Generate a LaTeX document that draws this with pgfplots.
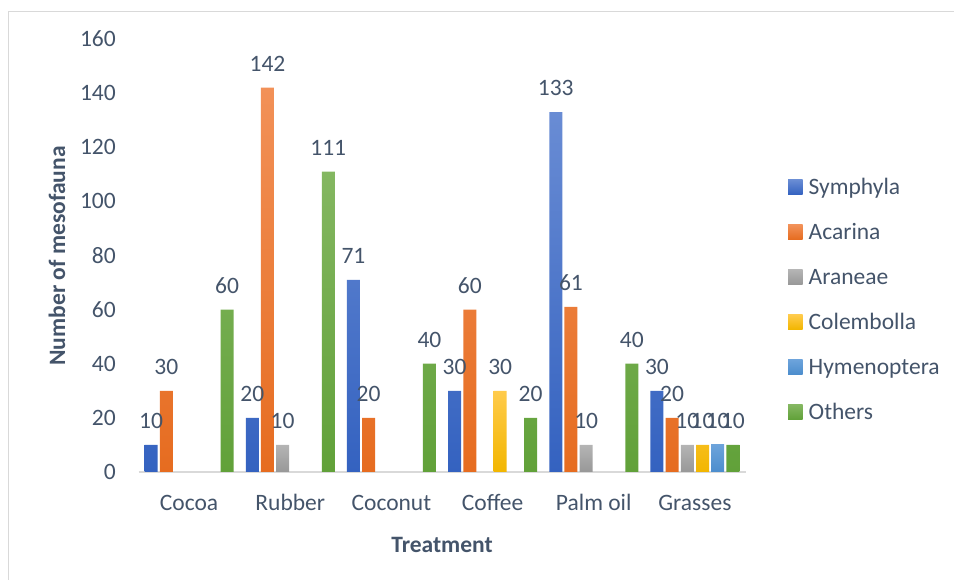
\documentclass[border=0pt]{standalone}
\usepackage{pgfplots}
\pgfplotsset{compat=1.18}
\usepackage{fontspec}
\setmainfont{Carlito}
\definecolor{txt}{HTML}{44546A}
\definecolor{frame}{HTML}{D9D9D9}
\definecolor{symT}{RGB}{105,140,212}\definecolor{symB}{RGB}{52,98,192}
\definecolor{acaT}{RGB}{242,145,88}\definecolor{acaB}{RGB}{230,108,32}
\definecolor{araT}{RGB}{180,180,180}\definecolor{araB}{RGB}{152,152,152}
\definecolor{colT}{RGB}{255,203,75}\definecolor{colB}{RGB}{242,182,0}
\definecolor{hymT}{RGB}{108,163,219}\definecolor{hymB}{RGB}{76,141,205}
\definecolor{othT}{RGB}{132,183,97}\definecolor{othB}{RGB}{97,161,57}
\newcommand\fs{\fontsize{23.5bp}{28bp}\selectfont}
\begin{document}
\begin{tikzpicture}[x=1bp,y=1bp]
\useasboundingbox (0,0) rectangle (954,580);
\draw[frame,line width=1bp] (8,0) -- (8,568) -- (954,568);
\begin{axis}[
  at={(138.5bp,108bp)}, anchor=south west,
  scale only axis, width=607bp, height=433bp,
  xmin=-0.5, xmax=5.5, ymin=0, ymax=160,
  ybar=2.2bp, bar width=13bp,
  axis x line*=bottom, axis y line*=left,
  x axis line style={draw=frame, line width=1.5bp},
  y axis line style={draw=none},
  major tick length=0pt, tick style={draw=none},
  xtick={0,...,5},
  xticklabels={Cocoa,Rubber,Coconut,Coffee,Palm oil,Grasses},
  ytick={0,20,...,160},
  /pgf/number format/assume math mode=true,
  ticklabel style={font=\fs, text=txt},
  xticklabel style={inner sep=0pt, anchor=north, text height=15bp, yshift=-23bp},
  yticklabel style={inner sep=0pt, anchor=east, xshift=-22.5bp},
  xlabel={Treatment}, ylabel={Number of mesofauna},
  label style={font=\fs\bfseries, text=txt},
  xlabel style={at={(axis description cs:0.5,-0.1686)}, anchor=center, inner sep=0pt},
  ylabel style={at={(axis description cs:-0.1343,0.499)}, anchor=center, inner sep=0pt},
  nodes near coords,
  nodes near coords style={font=\fs, text=txt, anchor=south, inner sep=0pt, yshift=16bp},
  legend cell align=left,
  legend image code/.code={\path[#1] (0bp,-5.5bp) rectangle (14.5bp,9bp);},
  legend style={at={(axis description cs:1.070,0.394)}, anchor=west,
    draw=none, fill=none, inner sep=0pt, font=\fs, text=txt, row sep=24bp,
    nodes={inner sep=0pt, text height=16bp, text depth=5bp},
    /tikz/every odd column/.append style={column sep=6bp}},
]
\addplot[draw=none, top color=symT, bottom color=symB] coordinates {(0,10)(1,20)(2,71)(3,30)(4,133)(5,30)};
\addplot[draw=none, top color=acaT, bottom color=acaB] coordinates {(0,30)(1,142)(2,20)(3,60)(4,61)(5,20)};
\addplot[draw=none, top color=araT, bottom color=araB] coordinates {(1,10)(4,10)(5,10)};
\addplot[draw=none, top color=colT, bottom color=colB] coordinates {(3,30)(5,10)};
\addplot[draw=none, top color=hymT, bottom color=hymB] coordinates {(5,10)};
\addplot[draw=none, top color=othT, bottom color=othB] coordinates {(0,60)(1,111)(2,40)(3,20)(4,40)(5,10)};
\legend{Symphyla,Acarina,Araneae,Colembolla,Hymenoptera,Others}
\end{axis}
\end{tikzpicture}
\end{document}
